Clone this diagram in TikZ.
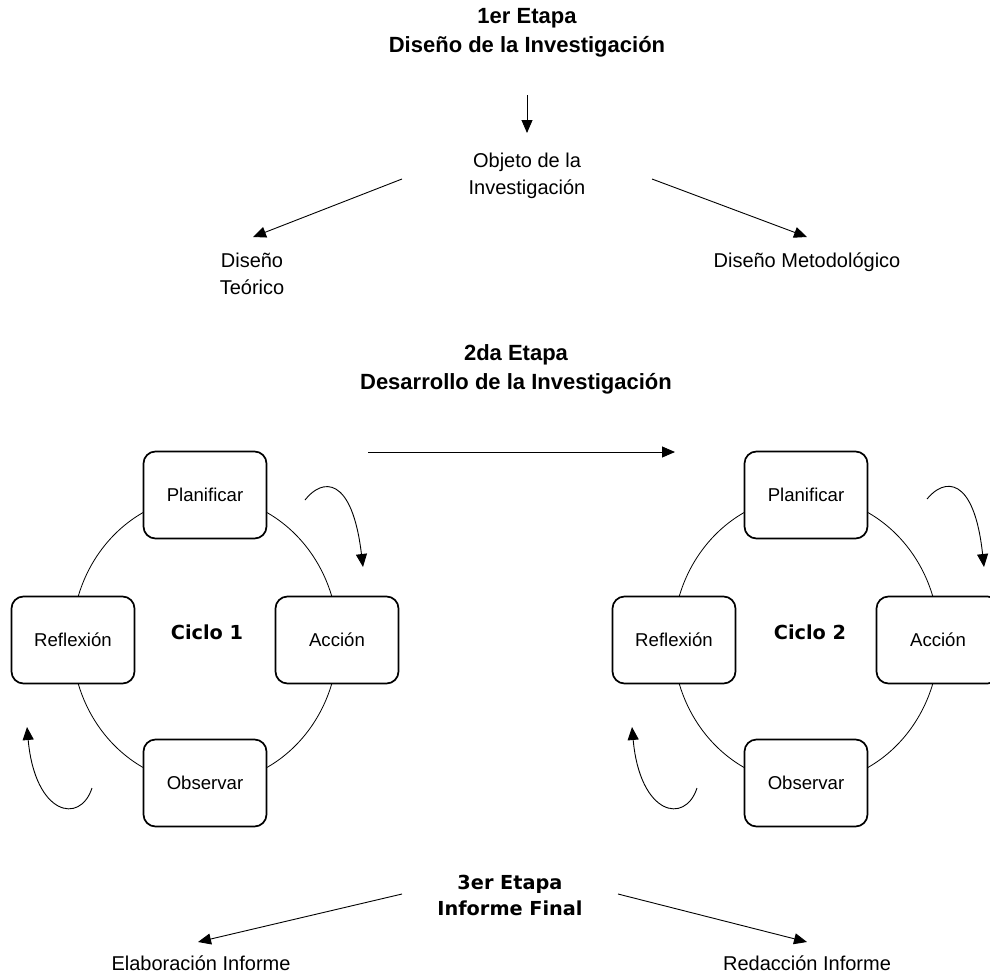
\documentclass[tikz,border=0pt]{standalone}
\usepackage{fontspec}
\setmainfont{Liberation Sans}
\newfontfamily\heavyfont{DejaVu Sans}
\usetikzlibrary{arrows.meta}
\begin{document}
\begin{tikzpicture}[x=1pt,y=-1pt,
  txt/.style={font=\fontsize{20}{27}\selectfont, align=center, inner sep=0pt},
  ttl/.style={font=\fontsize{22}{29}\selectfont\bfseries, align=center, inner sep=0pt},
  blk/.style={font=\heavyfont\bfseries\fontsize{19.3}{26}\selectfont, align=center, inner sep=0pt},
  stage/.style={draw, line width=1.7pt, rounded corners=12pt, fill=white,
    minimum width=123pt, minimum height=87pt, inner sep=0pt,
    font=\fontsize{18.6}{22}\selectfont},
  arr/.style={-{Triangle[length=13pt,width=11pt]}, line width=0.9pt},
  ring/.style={line width=0.8pt}]
\useasboundingbox (0,0) rectangle (990,977);

% ---- Stage 1: research design ----
\node[ttl] (t1) at (527,33) {1er Etapa\\Diseño de la Investigación};
\node[txt] (obj) at (527,175.5) {Objeto de la\\Investigación};
\node[txt] (teo) at (252,273.5) {Diseño\\Teórico};
\node[txt] (met) at (807,262) {Diseño Metodológico};

\coordinate (a1s) at (527,95);   \coordinate (a1e) at (527,133);
\coordinate (a2s) at (402,179);  \coordinate (a2e) at (253,237);
\coordinate (a3s) at (652,179);  \coordinate (a3e) at (807,237);
\draw[arr] (a1s) -- (a1e);
\draw[arr] (a2s) -- (a2e);
\draw[arr] (a3s) -- (a3e);

% ---- Stage 2: research development ----
\node[ttl] (t2) at (516,369) {2da Etapa\\Desarrollo de la Investigación};
\coordinate (hs) at (368,452); \coordinate (he) at (675,452);
\draw[arr] (hs) -- (he);

% cycle 1
\coordinate (c1) at (205,640);
\draw[ring] (c1) ellipse [x radius=133, y radius=144];
\node[stage] (p1) at (205,495) {Planificar};
\node[stage] (r1) at (73,640)  {Reflexión};
\node[stage] (ac1) at (337,640) {Acción};
\node[stage] (o1) at (205,783) {Observar};
\node[blk] (cy1) at (207,632) {Ciclo 1};

\coordinate (k1s) at (305,500); \coordinate (k1e) at (363,567);
\draw[arr] (k1s) .. controls (322,478) and (352,475) .. (k1e);
\coordinate (k2s) at (92,788); \coordinate (k2e) at (27,727);
\draw[arr] (k2s) .. controls (80,825) and (35,815) .. (k2e);

% cycle 2
\coordinate (c2) at (806,640);
\draw[ring] (c2) ellipse [x radius=133, y radius=144];
\node[stage] (p2) at (806,495) {Planificar};
\node[stage] (r2) at (674,640) {Reflexión};
\node[stage] (ac2) at (938,640) {Acción};
\node[stage] (o2) at (806,783) {Observar};
\node[blk] (cy2) at (810,632) {Ciclo 2};

\coordinate (k3s) at (927,499); \coordinate (k3e) at (984,567);
\draw[arr] (k3s) .. controls (944,478) and (974,475) .. (k3e);
\coordinate (k4s) at (697,788); \coordinate (k4e) at (632,727);
\draw[arr] (k4s) .. controls (685,825) and (640,815) .. (k4e);

% ---- Stage 3: final report ----
\node[blk] (t3) at (510,895) {3er Etapa\\Informe Final};
\node[txt] (ela) at (201,963) {Elaboración Informe};
\node[txt] (red) at (807,963) {Redacción Informe};
\coordinate (b1s) at (402,894); \coordinate (b1e) at (198,942);
\coordinate (b2s) at (618,894); \coordinate (b2e) at (807,942);
\draw[arr] (b1s) -- (b1e);
\draw[arr] (b2s) -- (b2e);
\end{tikzpicture}
\end{document}
